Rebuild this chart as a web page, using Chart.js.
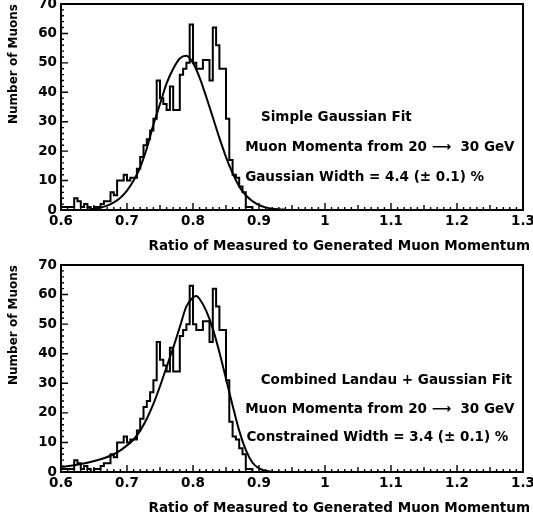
<!DOCTYPE html>
<html><head><meta charset="utf-8">
<script src="https://cdn.jsdelivr.net/npm/chart.js@4.4.1/dist/chart.umd.min.js"></script>
<style>
html,body{margin:0;padding:0;background:#fff;}
#wrap{position:relative;width:533px;height:524px;overflow:hidden;background:#fff;}
canvas{position:absolute;left:0;}
</style></head><body>
<div id="wrap">
<canvas id="topChart" width="533" height="255" style="top:0px"></canvas>
<canvas id="botChart" width="533" height="269" style="top:255px"></canvas>
</div>
<script>
// ---- data ----
const binEdges = [0.600,0.605,0.610,0.615,0.620,0.625,0.630,0.635,0.640,0.645,
                  0.650,0.655,0.660,0.665,0.670,0.675,0.680,0.685,0.690,0.695,
                  0.700,0.705,0.710,0.715,0.720,0.725,0.730,0.735,0.740,0.745,
                  0.750,0.755,0.760,0.765,0.770,0.775,0.780,0.785,0.790,0.795,
                  0.800,0.805,0.810,0.815,0.820,0.825,0.830,0.835,0.840,0.845,
                  0.850,0.855,0.860,0.865,0.870,0.875,0.880,0.885,0.890,0.895,0.900];
const muonCounts = [1,1,1,1,4,3,1,2,1,0,
                    1,1,2,3,3,6,5,10,10,12,
                    10,11,11,14,18,22,24,27,31,44,
                    38,36,34,42,34,34,46,48,50,63,
                    50,48,48,51,51,44,62,56,48,48,
                    31,17,12,11,8,6,1,1,0,0];

const gaussFitX = [0.64,0.65,0.66,0.67,0.68,0.69,0.70,0.71,0.72,0.73,0.74,0.75,0.76,0.77,0.78,0.79,
                   0.80,0.81,0.82,0.83,0.84,0.85,0.86,0.87,0.88,0.89,0.90,0.91,0.92,0.93,0.94];
const gaussFitY = [0.2,0.4,0.8,1.5,2.6,4.2,6.6,10,14.5,21,29,36,43,48,51.5,52.4,
                   50,45,38.5,31.5,24.5,18,12.5,8,5,3,1.7,0.9,0.4,0.2,0.1];

const landauFitX = [0.60,0.62,0.64,0.66,0.68,0.69,0.70,0.71,0.72,0.73,0.74,0.75,0.76,0.77,0.78,0.79,
                    0.80,0.805,0.81,0.82,0.83,0.84,0.85,0.86,0.87,0.88,0.89,0.90,0.91,0.92];
const landauFitY = [1.7,2.3,3.1,4.3,6,7.3,9,11,14,18,23,29,35.5,42,49,56,
                    59,59.5,58.5,54.5,48.5,40.5,31.5,22.5,14,7.5,3.2,1.2,0.4,0.1];

const xTickValues = [0.6,0.7,0.8,0.9,1.0,1.1,1.2,1.3];
const yTickValues = [0,10,20,30,40,50,60,70];

const xTitle = 'Ratio of Measured to Generated Muon Momentum';
const yTitle = 'Number of Muons';
const topNotes = ['Simple Gaussian Fit', 'Muon Momenta from 20 \u27f6  30 GeV', 'Gaussian Width = 4.4 (\u00b1 0.1) %'];
const botNotes = ['Combined Landau + Gaussian Fit', 'Muon Momenta from 20 \u27f6  30 GeV', 'Constrained Width = 3.4 (\u00b1 0.1) %'];
const topNoteAnchors = [[0.903,31.4],[0.879,21.3],[0.879,11.1]];
const botNoteAnchors = [[0.9026,30.8],[0.879,21.0],[0.881,11.5]];

// ---- chart construction ----
Chart.defaults.font.family = '"DejaVu Sans", sans-serif';
Chart.defaults.color = '#000';

function makeDecor(notes, anchors, titleY) {
  return {
    id: 'decor',
    afterDatasetsDraw(chart) {
      const {ctx, chartArea: a, scales: {x, y}} = chart;
      ctx.save();
      ctx.strokeStyle = '#000';
      ctx.lineWidth = 1.4;
      ctx.beginPath();
      for (let k = 60; k <= 130; k++) {
        const px = x.getPixelForValue(k / 100);
        const len = k % 10 === 0 ? 7 : (k % 5 === 0 ? 5 : 3);
        ctx.moveTo(px, a.bottom); ctx.lineTo(px, a.bottom - len);
      }
      for (let k = 0; k <= 70; k += 2) {
        const py = y.getPixelForValue(k);
        const len = k % 10 === 0 ? 7 : 3;
        ctx.moveTo(a.left, py); ctx.lineTo(a.left + len, py);
      }
      ctx.stroke();
      ctx.lineWidth = 2;
      ctx.strokeRect(a.left, a.top, a.right - a.left, a.bottom - a.top);
      ctx.fillStyle = '#000';
      ctx.font = 'bold 13.5px "DejaVu Sans"';
      ctx.textBaseline = 'middle';
      ctx.textAlign = 'left';
      notes.forEach((t, i) => {
        ctx.fillText(t, x.getPixelForValue(anchors[i][0]), y.getPixelForValue(anchors[i][1]));
      });
      ctx.textAlign = 'right';
      ctx.fillText(xTitle, a.right + 7, titleY);
      ctx.restore();
    }
  };
}

function buildChart(id, fitX, fitY, notes, anchors, padTop, xHeight, titleY) {
  const hist = binEdges.map((e, i) => ({x: e, y: i < muonCounts.length ? muonCounts[i] : 0}));
  const fit = fitX.map((v, i) => ({x: v, y: fitY[i]}));
  return new Chart(document.getElementById(id), {
    type: 'line',
    data: {
      datasets: [
        {data: hist, borderColor: '#000', borderWidth: 2, pointRadius: 0, stepped: 'before', fill: false},
        {data: fit, borderColor: '#000', borderWidth: 2, pointRadius: 0, tension: 0.4, cubicInterpolationMode: 'monotone', fill: false}
      ]
    },
    options: {
      responsive: false,
      animation: false,
      devicePixelRatio: 1,
      layout: {padding: {top: padTop, right: 10, left: 0, bottom: 0}},
      plugins: {legend: {display: false}, tooltip: {enabled: false}},
      scales: {
        x: {
          type: 'linear', min: 0.6, max: 1.3,
          grid: {display: false, drawTicks: false},
          border: {display: false},
          afterBuildTicks: s => { s.ticks = xTickValues.map(v => ({value: v})); },
          afterFit: s => { s.height = xHeight; s.paddingLeft = 0; s.paddingRight = 0; },
          ticks: {
            autoSkip: false, maxRotation: 0, padding: 3, color: '#000',
            font: {size: 13.5, weight: 'bold'},
            callback: v => String(+Number(v).toFixed(2))
          }
        },
        y: {
          type: 'linear', min: 0, max: 70,
          grid: {display: false, drawTicks: false},
          border: {display: false},
          afterBuildTicks: s => { s.ticks = yTickValues.map(v => ({value: v})); },
          afterFit: s => { s.width = 61; s.paddingTop = 0; s.paddingBottom = 0; },
          ticks: {padding: 4, color: '#000', font: {size: 13.5, weight: 'bold'}},
          title: {display: true, text: yTitle, align: 'end', color: '#000',
                  font: {size: 12, weight: 'bold'}, padding: {top: 7, bottom: 0}}
        }
      }
    },
    plugins: [makeDecor(notes, anchors, titleY)]
  });
}

buildChart('topChart', gaussFitX, gaussFitY, topNotes, topNoteAnchors, 4, 45, 246);
buildChart('botChart', landauFitX, landauFitY, botNotes, botNoteAnchors, 10, 52, 253);
</script>
</body></html>
